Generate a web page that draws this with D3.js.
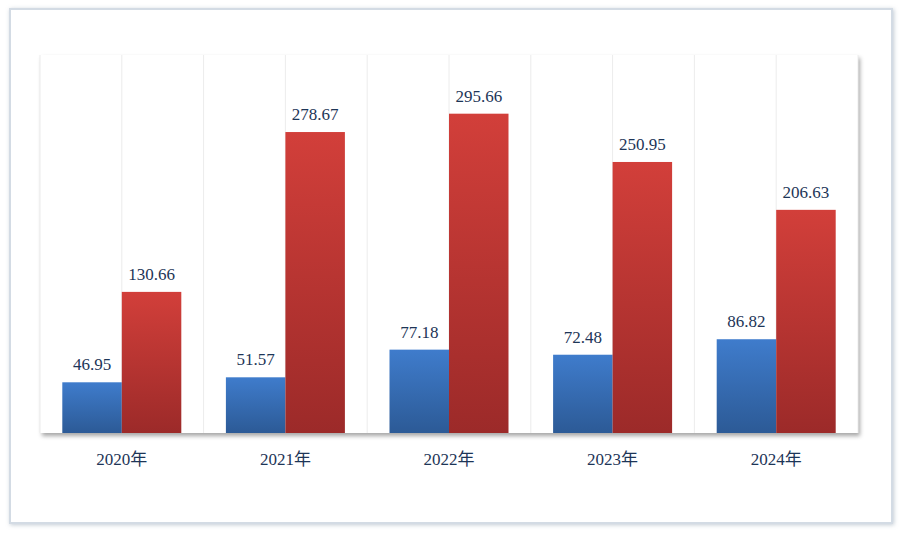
<!DOCTYPE html><html><head><meta charset="utf-8"><script src="https://cdn.jsdelivr.net/npm/d3@7"></script>
<style>body{margin:0;background:#fff}</style></head><body><svg id="c" width="904" height="533"></svg>
<script>
const categories=["2020年","2021年","2022年","2023年","2024年"];
const seriesA=[46.95,51.57,77.18,72.48,86.82];
const seriesB=[130.66,278.67,295.66,250.95,206.63];
const svg=d3.select("#c");
const defs=svg.append("defs");
const f=defs.append("filter").attr("id","sh").attr("x","-5%").attr("y","-5%").attr("width","110%").attr("height","115%");
f.append("feDropShadow").attr("dx",2).attr("dy",3).attr("stdDeviation",2).attr("flood-color","#000").attr("flood-opacity",0.35);
const f2=defs.append("filter").attr("id","sh2").attr("x","-5%").attr("y","-5%").attr("width","110%").attr("height","110%");
f2.append("feDropShadow").attr("dx",1).attr("dy",1).attr("stdDeviation",2).attr("flood-color","#9aa8b8").attr("flood-opacity",0.6);
const gb=defs.append("linearGradient").attr("id","gb").attr("x1",0).attr("y1",0).attr("x2",0).attr("y2",1);
gb.append("stop").attr("offset",0).attr("stop-color","#3f7ccc");gb.append("stop").attr("offset",1).attr("stop-color","#2c5a96");
const gr=defs.append("linearGradient").attr("id","gr").attr("x1",0).attr("y1",0).attr("x2",0).attr("y2",1);
gr.append("stop").attr("offset",0).attr("stop-color","#d23f3a");gr.append("stop").attr("offset",1).attr("stop-color","#9c2a29");
svg.append("rect").attr("x",10).attr("y",9).attr("width",882).attr("height",514).attr("fill","#fff").attr("stroke","#d3dbe4").attr("stroke-width",2).attr("filter","url(#sh2)");
const L=40,R=858,T=55,B=433;
svg.append("rect").attr("x",L).attr("y",T).attr("width",R-L).attr("height",B-T).attr("fill","#fff").attr("filter","url(#sh)");
const x=d3.scaleBand().domain(categories).range([L,R]);
const y=d3.scaleLinear().domain([0,350]).range([B,T]);
const g=svg.append("g");
d3.range(11).forEach(i=>{const xx=L+i*(R-L)/10;g.append("line").attr("x1",xx).attr("x2",xx).attr("y1",T).attr("y2",B).attr("stroke","#ececec");});
const bw=59.5;
categories.forEach((c,i)=>{
 const cx=x(c)+x.bandwidth()/2;
 [[seriesA[i],cx-bw,"url(#gb)"],[seriesB[i],cx,"url(#gr)"]].forEach(([v,x0,fill])=>{
  g.append("rect").attr("x",x0).attr("y",y(v)).attr("width",bw).attr("height",B-y(v)).attr("fill",fill);
  g.append("text").attr("x",x0+bw/2).attr("y",y(v)-12).attr("text-anchor","middle").attr("font-family","Liberation Serif").attr("font-size",17).attr("fill","#1d3557").text(v.toFixed(2));
 });
 g.append("text").attr("x",cx).attr("y",465).attr("text-anchor","middle").attr("font-family","Liberation Serif, Noto Sans CJK SC").attr("font-size",17).attr("fill","#1d3557").text(c);
});
</script></body></html>
